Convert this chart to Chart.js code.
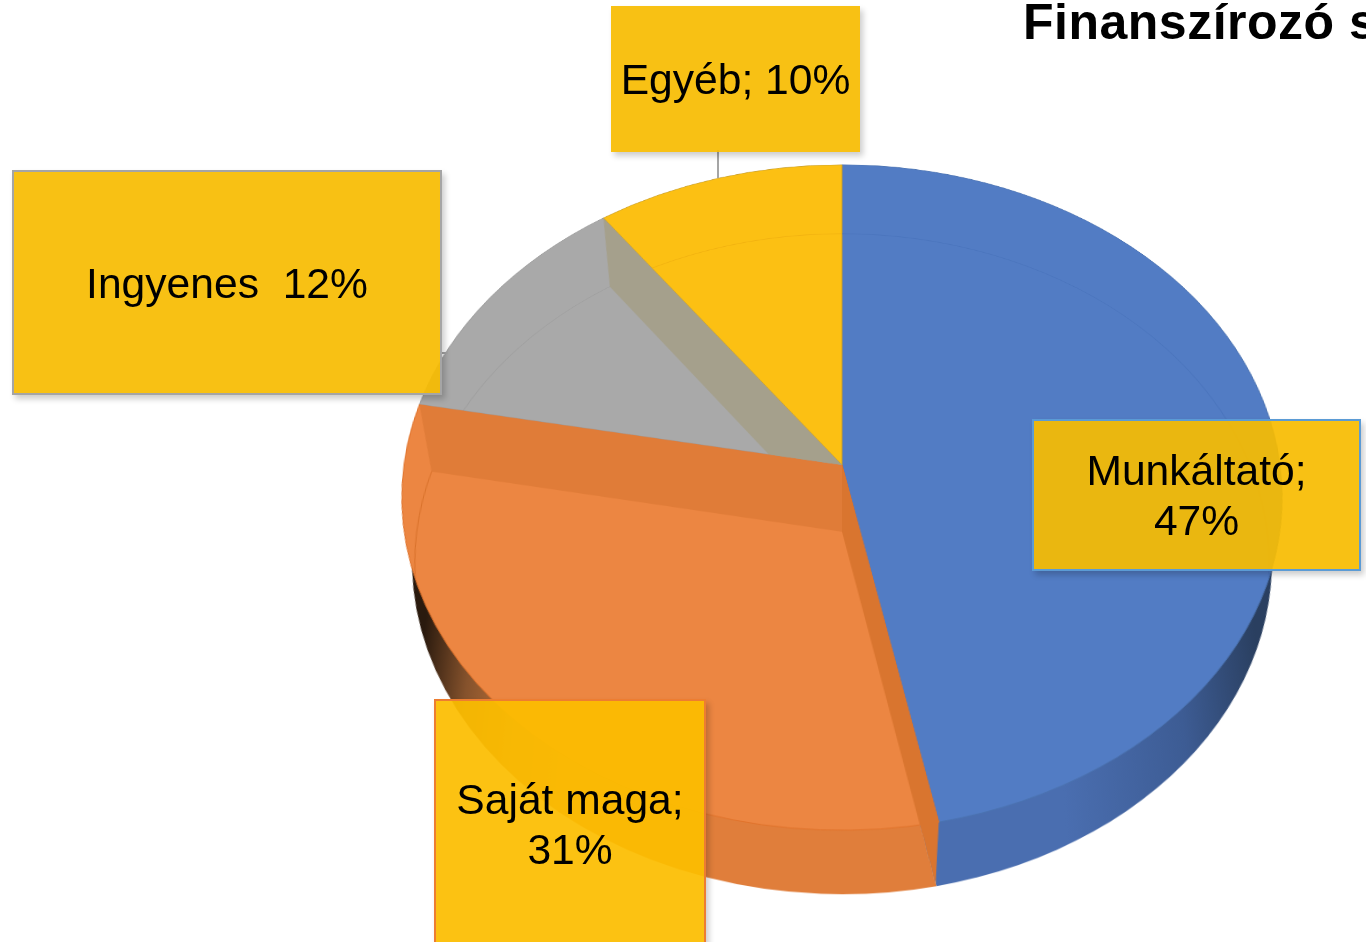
<!DOCTYPE html>
<html>
<head>
<meta charset="utf-8">
<script src="https://cdn.jsdelivr.net/npm/chart.js@4"></script>
<style>
    html, body { margin: 0; background: #fff; }
    #page { position: relative; width: 1366px; height: 942px; overflow: hidden; font-family: "Liberation Sans", Arial, sans-serif; color: #000; }
    canvas { position: absolute; left: 392px; transform-origin: 50% 50%; }
    #wall { top: 79px; transform: scaleX(0.977) perspective(2951px) rotateX(41.2deg); }
    #face { top: -45px; transform: perspective(2951px) rotateX(41.2deg); }
    .box { position: absolute; box-sizing: border-box; display: flex; align-items: center; justify-content: center; text-align: center; white-space: pre; font-size: 42.6px; line-height: 50px; background: rgba(247, 188, 0, 0.92); box-shadow: 3px 4px 6px rgba(0, 0, 0, 0.2); }
    .leader { position: absolute; background: #a5a5a5; }
    #title { position: absolute; left: 1023px; top: -7px; font-size: 50px; font-weight: bold; letter-spacing: 0.5px; white-space: pre; }
</style>
</head>
<body>
<div id="page">
    <canvas id="wall" width="900" height="900"></canvas>
    <canvas id="face" width="900" height="1020"></canvas>
    <div class="leader" style="left:717px;top:150px;width:2px;height:28px"></div>
    <div class="leader" style="left:440px;top:352px;width:8px;height:2px"></div>
    <div id="title">Finanszírozó s</div>
    <div class="box" id="box0" style="left:1032px;top:419px;width:329px;height:152px;border:2px solid #5b9bd5"></div>
    <div class="box" id="box1" style="left:434px;top:699px;width:272px;height:260px;border:2px solid #ed7d31;padding-bottom:11px;background:rgba(252,189,0,0.93)"></div>
    <div class="box" id="box2" style="left:12px;top:170px;width:430px;height:225px;border:2px solid #a5a5a5"></div>
    <div class="box" id="box3" style="left:611px;top:6px;width:249px;height:146px"></div>
</div>
<script>
const categories = ['Munkáltató', 'Saját maga', 'Ingyenes', 'Egyéb'];
const shares = [46.8, 31.2, 12, 10];
const labelTexts = ['Munkáltató;\n47%', 'Saját maga;\n31%', 'Ingyenes  12%', 'Egyéb; 10%'];

const faceColors = ['#527cc4', '#ec8642', '#a9a9a9', '#fcc013'];
const edgeColors = ['#4a72b0', '#e0722a', '#9a9a9a', '#c9a030'];
const rimColors = ['#4a74bc', '#d9722c', '#9e9e9e', '#f0b010'];

const radius = 438;
const rimShift = 87;
const rimRadius = 417;

function sector(ctx, x, y, r, start, end) {
    ctx.beginPath();
    ctx.moveTo(x, y);
    ctx.arc(x, y, r, start, end);
    ctx.closePath();
}

// cut faces seen through the top, one per slice boundary (end of slice i)
const cutFaces = [
    { slice: 0, color: '#d9752f' },
    { slice: 1, color: '#e07c38' },
    { slice: 2, color: '#a5a08c', clip: true }
];

const seeThrough = {
    id: 'seeThrough',
    afterDatasetsDraw(chart) {
        const ctx = chart.ctx;
        const arcs = chart.getDatasetMeta(0).data.map(a => a.getProps(['x', 'y', 'startAngle', 'endAngle'], true));

        // rim of the bottom face
        arcs.forEach((top, i) => {
            ctx.save();
            sector(ctx, top.x, top.y, radius - 1, top.startAngle, top.endAngle);
            ctx.clip();
            ctx.beginPath();
            ctx.arc(top.x, top.y + rimShift, rimRadius, 0, Math.PI * 2);
            ctx.strokeStyle = rimColors[i];
            ctx.lineWidth = 1;
            ctx.stroke();
            ctx.restore();
        });

        cutFaces.forEach(cut => {
            const arc = arcs[cut.slice];
            const a = arc.endAngle;
            ctx.save();
            if (cut.clip) {
                sector(ctx, arc.x, arc.y, radius, arc.startAngle, arc.endAngle);
                ctx.clip();
            }
            ctx.beginPath();
            ctx.moveTo(arc.x, arc.y);
            ctx.lineTo(arc.x + radius * Math.cos(a), arc.y + radius * Math.sin(a));
            ctx.lineTo(arc.x + rimRadius * Math.cos(a), arc.y + rimShift + rimRadius * Math.sin(a));
            ctx.lineTo(arc.x, arc.y + rimShift);
            ctx.closePath();
            ctx.fillStyle = cut.color;
            ctx.fill();
            ctx.restore();
        });
    }
};

function pieOptions() {
    return {
        responsive: false,
        animation: false,
        radius: radius,
        layout: { padding: 0 },
        plugins: { legend: { display: false }, tooltip: { enabled: false } }
    };
}

const wallCtx = document.getElementById('wall').getContext('2d');

const orangeWall = wallCtx.createLinearGradient(35, 0, 193, 0);
orangeWall.addColorStop(0, '#2a1a0e');
orangeWall.addColorStop(0.3, '#85522c');
orangeWall.addColorStop(0.63, '#c07238');
orangeWall.addColorStop(1, '#e07e3b');

const blueWall = wallCtx.createLinearGradient(660, 0, 860, 0);
blueWall.addColorStop(0, '#4a6eb0');
blueWall.addColorStop(0.6, '#3d5c94');
blueWall.addColorStop(1, '#2a3f60');

new Chart(wallCtx, {
    type: 'pie',
    data: {
        labels: categories,
        datasets: [{
            data: shares,
            backgroundColor: [blueWall, orangeWall, '#a9a9a9', '#fcc013'],
            borderWidth: 0
        }]
    },
    options: pieOptions()
});

new Chart(document.getElementById('face'), {
    type: 'pie',
    data: {
        labels: categories,
        datasets: [{
            data: shares,
            backgroundColor: faceColors,
            borderColor: edgeColors,
            borderWidth: 1
        }]
    },
    options: pieOptions(),
    plugins: [seeThrough]
});

labelTexts.forEach((text, i) => {
    document.getElementById('box' + i).textContent = text;
});
</script>
</body>
</html>
